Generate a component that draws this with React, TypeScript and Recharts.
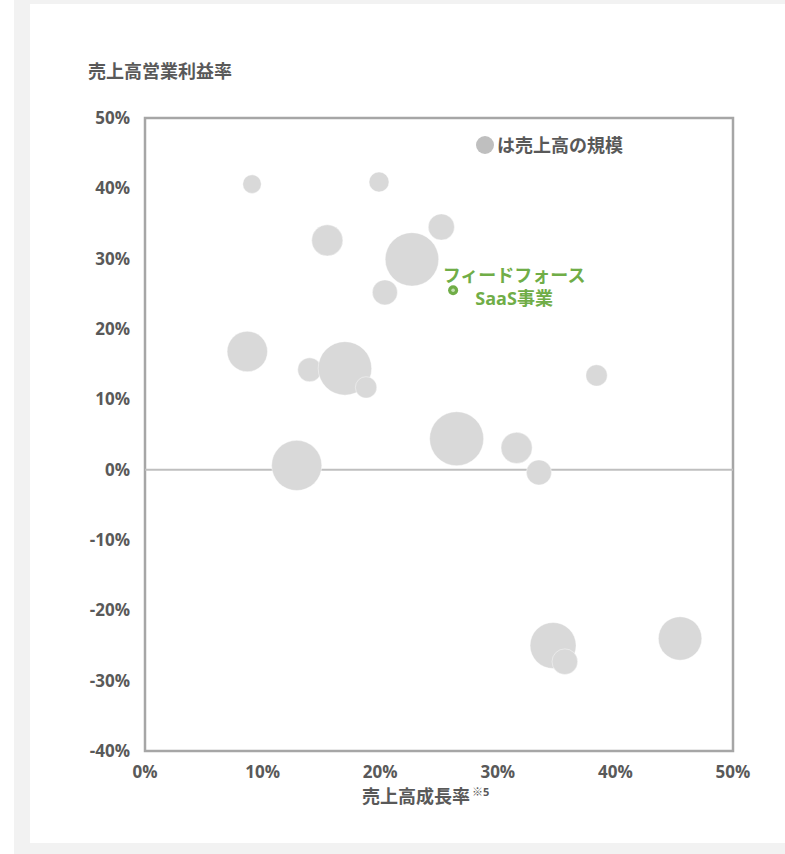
import React from 'react';
import {
  ScatterChart,
  Scatter,
  XAxis,
  YAxis,
  ZAxis,
  ReferenceLine,
  ReferenceArea,
  Legend,
} from 'recharts';

// 各社の売上高成長率(%)・売上高営業利益率(%)・売上高規模(相対値)
const growthRates = [9.1, 19.9, 25.2, 15.5, 22.7, 20.4, 8.7, 14.0, 17.0, 18.8, 38.4, 26.5, 31.6, 33.5, 12.9, 34.7, 35.7, 45.5];
const operatingMargins = [40.6, 40.9, 34.5, 32.6, 29.9, 25.2, 16.8, 14.2, 14.4, 11.7, 13.4, 4.4, 3.1, -0.4, 0.6, -25.0, -27.3, -24.0];
const salesScale = [12, 14, 24, 34, 100, 22, 57, 20, 100, 16, 16, 102, 34, 22, 88, 74, 23, 66];

// フィードフォース SaaS事業
const ffGrowth = [26.2];
const ffMargin = [25.5];
const ffLabel = ['フィードフォース', 'SaaS事業'];

const xTicks = [0, 10, 20, 30, 40, 50];
const yTicks = [-40, -30, -20, -10, 0, 10, 20, 30, 40, 50];

const peers = growthRates.map((x, i) => ({ x, y: operatingMargins[i], z: salesScale[i] }));
const feedforce = ffGrowth.map((x, i) => ({ x, y: ffMargin[i] }));

const FONT = "'Open Sans', 'Noto Sans CJK JP', sans-serif";
const TEXT = '#595959';
const GREEN = '#70ad47';
const BUBBLE = '#d9d9d9';

const tickStyle = { fill: TEXT, fontSize: 17, fontWeight: 700, fontFamily: FONT };

const FeedforceDot = (props: any) => {
  const { cx, cy } = props;
  return (
    <g>
      <circle cx={cx} cy={cy} r={5} fill={GREEN} />
      <circle cx={cx} cy={cy} r={1.8} fill="#c5e0b4" />
      <text
        x={cx + 61}
        y={cy - 15}
        textAnchor="middle"
        dominantBaseline="central"
        fill={GREEN}
        fontSize={18}
        fontWeight={700}
        fontFamily={FONT}
      >
        {ffLabel[0]}
      </text>
      <text
        x={cx + 61}
        y={cy + 8}
        textAnchor="middle"
        dominantBaseline="central"
        fill={GREEN}
        fontSize={18}
        fontWeight={700}
        fontFamily={FONT}
      >
        {ffLabel[1]}
      </text>
    </g>
  );
};

const SizeLegend = () => (
  <svg width={170} height={24} style={{ display: 'block' }}>
    <circle cx={9} cy={12} r={9} fill="#bfbfbf" />
    <text x={21} y={12} dominantBaseline="central" fill={TEXT} fontSize={18} fontWeight={700} fontFamily={FONT}>
      は売上高の規模
    </text>
  </svg>
);

export default function App() {
  return (
    <div style={{ position: 'absolute', left: 0, top: 0, width: 785, height: 854, background: '#ffffff', overflow: 'hidden' }}>
      <div style={{ position: 'absolute', left: 14, top: 0, width: 771, height: 854, background: '#f2f2f2' }} />
      <div style={{ position: 'absolute', left: 30, top: 4, width: 755, height: 839, background: '#ffffff' }} />

      <div
        style={{
          position: 'absolute',
          left: 88,
          top: 59,
          fontFamily: FONT,
          fontWeight: 700,
          fontSize: 18,
          color: TEXT,
          lineHeight: '24px',
          whiteSpace: 'nowrap',
        }}
      >
        売上高営業利益率
      </div>

      <div
        style={{
          position: 'absolute',
          left: 362,
          top: 784,
          fontFamily: FONT,
          fontWeight: 700,
          fontSize: 18,
          color: TEXT,
          lineHeight: '24px',
          whiteSpace: 'nowrap',
        }}
      >
        売上高成長率
        <span style={{ fontSize: 11, position: 'relative', top: -7, marginLeft: 2 }}>※5</span>
      </div>

      <div style={{ position: 'absolute', left: 0, top: 0 }}>
        <ScatterChart width={785} height={854} margin={{ top: 118, right: 52, bottom: 73, left: 85 }}>
          <XAxis
            type="number"
            dataKey="x"
            domain={[0, 50]}
            ticks={xTicks}
            tickFormatter={(v: number) => `${v}%`}
            tick={tickStyle}
            tickLine={false}
            tickSize={0}
            tickMargin={15}
            axisLine={false}
            height={30}
            allowDataOverflow
          />
          <YAxis
            type="number"
            dataKey="y"
            domain={[-40, 50]}
            ticks={yTicks}
            tickFormatter={(v: number) => `${v}%`}
            tick={tickStyle}
            tickLine={false}
            tickSize={0}
            tickMargin={15}
            axisLine={false}
            width={60}
            allowDataOverflow
          />
          <ZAxis type="number" dataKey="z" domain={[0, 100]} range={[0, Math.PI * 27 * 27]} />
          <ReferenceLine y={0} stroke="#bfbfbf" strokeWidth={2} />
          <ReferenceArea x1={0} x2={50} y1={-40} y2={50} fill="none" stroke="#a6a6a6" strokeWidth={2.5} />
          <Scatter
            data={peers}
            fill={BUBBLE}
            stroke="#ffffff"
            strokeWidth={0.6}
            strokeOpacity={0.7}
            isAnimationActive={false}
          />
          <Scatter data={feedforce} shape={<FeedforceDot />} isAnimationActive={false} />
          <Legend
            layout="horizontal"
            verticalAlign="middle"
            align="center"
            content={() => <SizeLegend />}
            wrapperStyle={{ position: 'absolute', left: 476, top: 133, width: 170, height: 24 }}
          />
        </ScatterChart>
      </div>
    </div>
  );
}
